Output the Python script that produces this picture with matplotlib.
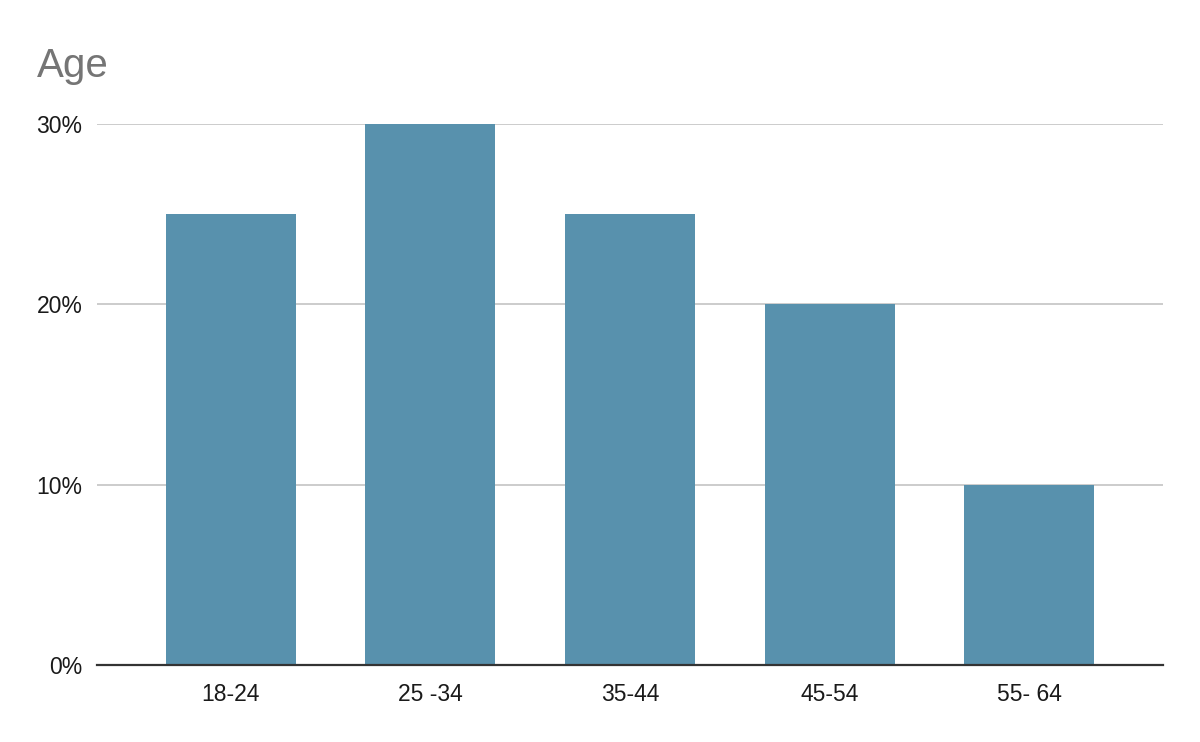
import matplotlib.pyplot as plt
from matplotlib.ticker import FuncFormatter

plt.rcParams['font.family'] = ['Liberation Sans', 'DejaVu Sans']

# Age distribution
ages = ['18-24', '25 -34', '35-44', '45-54', '55- 64']
shares = [25, 30, 25, 20, 10]
yticks = [0, 10, 20, 30]

fig = plt.figure(figsize=(12, 7.42), dpi=100)
ax = fig.add_axes([0.0808, 0.1038, 0.8884, 0.7291])

ax.bar(range(len(ages)), shares, width=0.65, color='#5891ad', zorder=3)

ax.set_xlim(-0.67, len(ages) - 1 + 0.67)
ax.set_ylim(0, 30)
ax.set_yticks(yticks)
ax.yaxis.set_major_formatter(FuncFormatter(lambda v, p: f'{v:.0f}%'))
ax.set_xticks(range(len(ages)))
ax.set_xticklabels(ages)

ax.grid(axis='y', color='#cccccc', linewidth=1.4, zorder=0)
ax.tick_params(axis='both', length=0, labelsize=16.5, colors='#1a1a1a')
ax.tick_params(axis='y', pad=10.5)
ax.tick_params(axis='x', pad=13)

for s in ['top', 'right', 'left']:
    ax.spines[s].set_visible(False)
ax.spines['bottom'].set_color('#333333')
ax.spines['bottom'].set_linewidth(1.6)
ax.spines['bottom'].set_zorder(4)

fig.text(37 / 1200, 1 - 77 / 742, 'Age', fontsize=29, color='#757575',
         ha='left', va='baseline')

plt.savefig('out.png', dpi=100)
